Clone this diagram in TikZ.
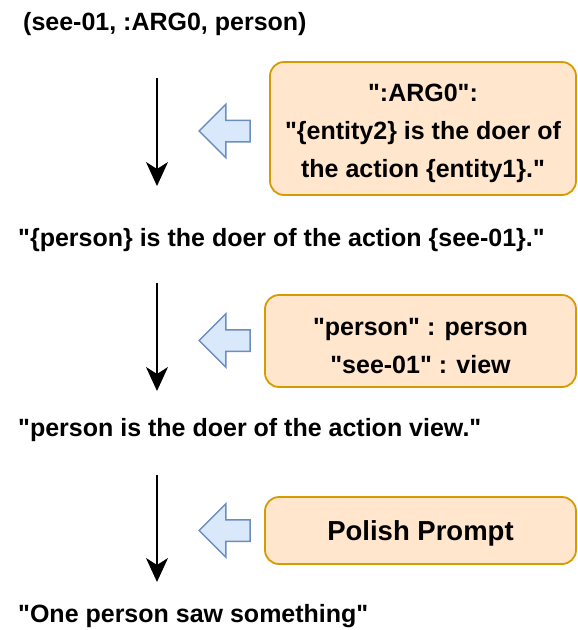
\documentclass[tikz,border=0pt]{standalone}
\usepackage{fontspec}
\setmainfont{Liberation Sans}
\usepackage{tikz}
\usetikzlibrary{shapes.arrows, arrows.meta, positioning}
\definecolor{boxfill}{HTML}{FFE6CC}
\definecolor{boxline}{HTML}{D79B00}
\definecolor{hintfill}{HTML}{DAE8FC}
\definecolor{hintline}{HTML}{6C8EBF}
% straight double quotes round a text
\newcommand{\qq}[1]{\textquotedbl#1\textquotedbl}
% taller first line, pushes box text down a little
\newcommand{\lift}[1]{\rule{0pt}{#1}}
\tikzstyle{stage} = [
  anchor=west, inner sep=0pt,
  font=\fontsize{25}{30}\selectfont\bfseries
]
\tikzstyle{rulebox} = [
  rectangle, draw=boxline, fill=boxfill, line width=1.8pt,
  rounded corners=14pt, align=center, inner sep=0pt,
  font=\fontsize{25}{38}\selectfont\bfseries
]
\tikzstyle{hint} = [
  single arrow, draw=hintline, fill=hintfill, line width=1.5pt,
  shape border rotate=180, inner xsep=0pt, inner ysep=10pt,
  single arrow head extend=16pt, minimum height=51pt
]
\tikzstyle{flow} = [-{Stealth[length=24pt,width=22pt,inset=7pt]}, line width=1.6pt]

\begin{document}
\begin{tikzpicture}[x=1pt, y=-1pt]
  \useasboundingbox (0,0) rectangle (578,630);

  % Text at each stage
  \node[stage] (triple) at (23, 24) {(see-01, :ARG0, person)};
  \node[stage] (templ) at (18, 240) {\qq{\{person\} is the doer of the action \{see-01\}.}};
  \node[stage] (filled) at (18, 430) {\qq{person is the doer of the action view.}};
  \node[stage] (final) at (18, 616) {\qq{One person saw something}};

  % Rules applied between stages
  \node[rulebox, minimum width=306pt, minimum height=133pt] (argrule) at (423, 128.5)
    {\lift{28pt}\qq{:ARG0}:\\\textquotedbl\{entity2\} is the doer of\\the action \{entity1\}.\textquotedbl};
  \node[rulebox, minimum width=311pt, minimum height=92pt] (maprule) at (420.5, 341)
    {\lift{28pt}\qq{person} : person\\\qq{see-01} : view};
  \node[rulebox, minimum width=311pt, minimum height=67pt,
        font=\fontsize{27.5}{32}\selectfont\bfseries] (polish) at (420.5, 530.5)
    {\lift{26pt}Polish Prompt};

  % Hollow arrows from the rules
  \node[hint] (hint1) at (230, 131) {};
  \node[hint] (hint2) at (230, 340.5) {};
  \node[hint] (hint3) at (230, 530.5) {};

  % Flow between stages
  \coordinate (s1) at (157, 78);  \coordinate (e1) at (157, 186);
  \coordinate (s2) at (157, 283); \coordinate (e2) at (157, 391);
  \coordinate (s3) at (157, 475); \coordinate (e3) at (157, 582);
  \draw[flow] (s1) -- (e1);
  \draw[flow] (s2) -- (e2);
  \draw[flow] (s3) -- (e3);
\end{tikzpicture}
\end{document}
